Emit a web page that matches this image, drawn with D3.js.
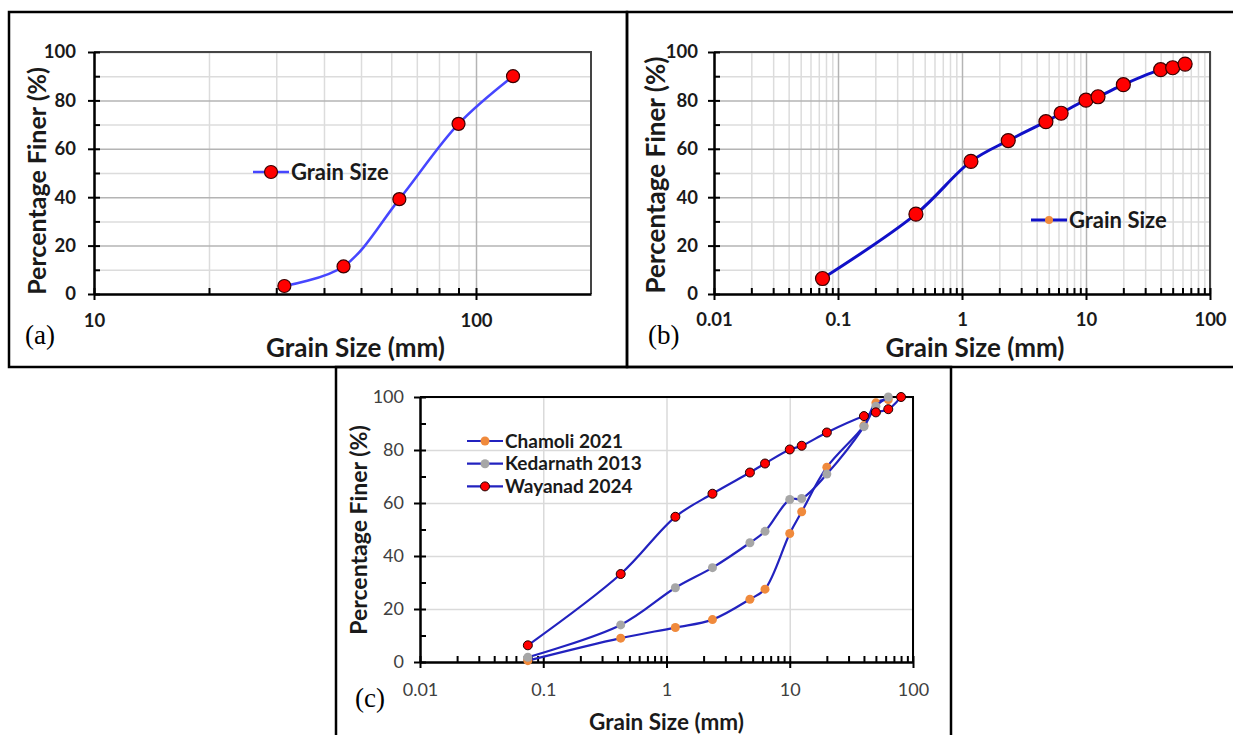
<!DOCTYPE html>
<html>
<head>
<meta charset="utf-8">
<script src="https://cdn.jsdelivr.net/npm/d3@7"></script>
<style>
  body { margin: 0; background: #fff; }
  svg { display: block; font-family: Lato, "Open Sans", sans-serif; }
</style>
</head>
<body>
<div id="chart"></div>
<script>
// panel (a)
const sizesA = [31.5, 45, 63, 90, 125];
const finerA = [3.3, 11.4, 39.2, 70.3, 90];

// panel (b)
const sizesB = [0.075, 0.425, 1.18, 2.36, 4.75, 6.3, 10, 12.5, 20, 40, 50, 63];
const finerB = [6.4, 33, 54.8, 63.4, 71.2, 74.7, 80.1, 81.5, 86.5, 92.7, 93.5, 95];

// panel (c)
const sizesC = [0.075, 0.425, 1.18, 2.36, 4.75, 6.3, 10, 12.5, 20, 40, 50, 63, 80];
const chamoli = [0.5, 9, 13, 16, 23.7, 27.5, 48.5, 56.7, 73.5, 89.2, 97.8, 99];
const kedarnath = [1.8, 14, 28, 35.6, 45, 49.3, 61.3, 61.7, 70.9, 88.8, 96.5, 100];
const wayanad = [6.3, 33.2, 54.8, 63.5, 71.5, 74.9, 80.2, 81.6, 86.6, 92.8, 94.2, 95.4, 100];
const seriesNames = ["Chamoli 2021", "Kedarnath 2013", "Wayanad 2024"];

const yTicks = [0, 20, 40, 60, 80, 100];
const yMinor = [10, 30, 50, 70, 90];
const xTicksA = [10, 100];
const xTicksBC = [0.01, 0.1, 1, 10, 100];

const W = 1233, H = 735;
const svg = d3.select("#chart").append("svg")
  .attr("width", W).attr("height", H);

// minor log positions 2..9 within each decade
function minorLog(lo, hi) {
  const out = [];
  for (let d = lo; d < hi; d *= 10)
    for (let k = 2; k <= 9; k++) out.push(d * k);
  return out;
}

function panel(cfg) {
  const g = svg.append("g");
  const x = d3.scaleLog().domain(cfg.xDomain).range([cfg.left, cfg.right]);
  const y = d3.scaleLinear().domain([0, 100]).range([cfg.bottom, cfg.top]);
  const pw = cfg.right - cfg.left, ph = cfg.bottom - cfg.top;
  const minors = minorLog(cfg.xDomain[0], cfg.xDomain[1]).filter(v => v < cfg.xDomain[1]);

  // grid
  if (cfg.minorGrid) {
    g.append("g").attr("transform", `translate(0,${cfg.bottom})`)
      .call(d3.axisBottom(x).tickValues(minors).tickSize(-ph).tickFormat(""))
      .call(s => s.select(".domain").remove())
      .selectAll("line").attr("stroke", "#dcdcdc").attr("stroke-width", 1.5);
    g.append("g").attr("transform", `translate(${cfg.left},0)`)
      .call(d3.axisLeft(y).tickValues(yMinor).tickSize(-pw).tickFormat(""))
      .call(s => s.select(".domain").remove())
      .selectAll("line").attr("stroke", "#dcdcdc").attr("stroke-width", 1.5);
  }
  g.append("g").attr("transform", `translate(0,${cfg.bottom})`)
    .call(d3.axisBottom(x).tickValues(cfg.xTicks).tickSize(-ph).tickFormat(""))
    .call(s => s.select(".domain").remove())
    .selectAll("line").attr("stroke", cfg.gridMajor).attr("stroke-width", 1.5);
  g.append("g").attr("transform", `translate(${cfg.left},0)`)
    .call(d3.axisLeft(y).tickValues(yTicks).tickSize(-pw).tickFormat(""))
    .call(s => s.select(".domain").remove())
    .selectAll("line").attr("stroke", cfg.gridMajor).attr("stroke-width", 1.5);

  // plot border top/right
  g.append("path")
    .attr("d", `M${cfg.left},${cfg.top}H${cfg.right}V${cfg.bottom}`)
    .attr("fill", "none").attr("stroke", cfg.borderColor).attr("stroke-width", 2);

  // inner minor ticks
  g.append("g").attr("transform", `translate(0,${cfg.bottom})`)
    .call(d3.axisBottom(x).tickValues(minors).tickSize(-6).tickFormat(""))
    .call(s => s.select(".domain").remove())
    .selectAll("line").attr("stroke", "#000").attr("stroke-width", 2);
  g.append("g").attr("transform", `translate(${cfg.left},0)`)
    .call(d3.axisLeft(y).tickValues(yMinor).tickSize(-6).tickFormat(""))
    .call(s => s.select(".domain").remove())
    .selectAll("line").attr("stroke", "#000").attr("stroke-width", 2);
  g.append("g").attr("transform", `translate(0,${cfg.bottom})`)
    .call(d3.axisBottom(x).tickValues(cfg.xTicks).tickSize(-6).tickFormat(""))
    .call(s => s.select(".domain").remove())
    .selectAll("line").attr("stroke", "#000").attr("stroke-width", 2);
  g.append("g").attr("transform", `translate(${cfg.left},0)`)
    .call(d3.axisLeft(y).tickValues(yTicks).tickSize(-6).tickFormat(""))
    .call(s => s.select(".domain").remove())
    .selectAll("line").attr("stroke", "#000").attr("stroke-width", 2);

  // main axes
  const xa = g.append("g").attr("transform", `translate(0,${cfg.bottom})`)
    .call(d3.axisBottom(x).tickValues(cfg.xTicks).tickSize(6).tickSizeOuter(0)
      .tickPadding(cfg.xPad).tickFormat(d => String(d)));
  const ya = g.append("g").attr("transform", `translate(${cfg.left},0)`)
    .call(d3.axisLeft(y).tickValues(yTicks).tickSize(6).tickSizeOuter(0)
      .tickPadding(cfg.yPad));
  [xa, ya].forEach(a => {
    a.select(".domain").attr("stroke", "#000").attr("stroke-width", 2.5);
    a.selectAll("line").attr("stroke", "#000").attr("stroke-width", 2);
    a.selectAll("text")
      .style("font-family", "Lato, sans-serif")
      .style("font-size", cfg.tickSize + "px")
      .style("font-weight", cfg.tickWeight)
      .attr("fill", cfg.tickColor);
  });

  // titles
  g.append("text")
    .attr("x", (cfg.left + cfg.right) / 2 + cfg.xTitleDx).attr("y", cfg.xTitleY)
    .attr("text-anchor", "middle")
    .style("font-size", cfg.titleSize + "px").style("font-weight", 700)
    .attr("fill", "#1a1a1a").text("Grain Size (mm)");
  g.append("text")
    .attr("transform", `translate(${cfg.yTitleX},${cfg.yTitleY}) rotate(-90)`)
    .attr("text-anchor", "middle")
    .style("font-size", cfg.yTitleSize + "px").style("font-weight", 700)
    .attr("fill", "#1a1a1a").text("Percentage Finer (%)");

  // panel letter
  g.append("text")
    .attr("x", cfg.letterX).attr("y", cfg.letterY)
    .style("font-family", "'Liberation Serif', 'DejaVu Serif', serif")
    .style("font-size", "27px").attr("fill", "#000").text(cfg.letter);

  // frame
  g.append("rect")
    .attr("x", cfg.frame[0]).attr("y", cfg.frame[1])
    .attr("width", cfg.frame[2] - cfg.frame[0]).attr("height", cfg.frame[3] - cfg.frame[1])
    .attr("fill", "none").attr("stroke", "#000").attr("stroke-width", 2.5);

  return {g, x, y};
}

function drawSeries(p, xs, ys, st) {
  const pts = ys.map((v, i) => [xs[i], v]);
  const line = d3.line()
    .x(d => p.x(d[0])).y(d => p.y(d[1]))
    .curve(d3.curveCatmullRom.alpha(0.5));
  p.g.append("path").datum(pts)
    .attr("d", line).attr("fill", "none")
    .attr("stroke", st.line).attr("stroke-width", st.lineWidth);
  p.g.append("g").selectAll("circle").data(pts).join("circle")
    .attr("cx", d => p.x(d[0])).attr("cy", d => p.y(d[1]))
    .attr("r", st.r).attr("fill", st.fill)
    .attr("stroke", st.stroke).attr("stroke-width", st.strokeWidth);
}

function legendItem(p, lx, ly, label, st, fontSize, weight) {
  p.g.append("line")
    .attr("x1", lx).attr("x2", lx + 36).attr("y1", ly).attr("y2", ly)
    .attr("stroke", st.line).attr("stroke-width", st.lineWidth);
  p.g.append("circle")
    .attr("cx", lx + 18).attr("cy", ly).attr("r", st.lr || st.r)
    .attr("fill", st.fill).attr("stroke", st.stroke).attr("stroke-width", st.strokeWidth);
  p.g.append("text")
    .attr("x", lx + 38).attr("y", ly).attr("dy", "0.35em")
    .style("font-size", fontSize + "px").style("font-weight", weight)
    .attr("fill", "#1a1a1a").text(label);
}

// ---- (a)
const pA = panel({
  frame: [9, 12, 627, 367], left: 94, right: 591, top: 52, bottom: 294,
  xDomain: [10, 200], xTicks: xTicksA, minorGrid: true,
  gridMajor: "#b4b4b4", borderColor: "#444",
  xPad: 14, yPad: 12, tickSize: 18.5, tickWeight: 700, tickColor: "#1a1a1a",
  titleSize: 26, xTitleDx: 13, xTitleY: 357, yTitleSize: 25, yTitleX: 46, yTitleY: 181,
  letter: "(a)", letterX: 25, letterY: 344
});
const stA = {line: "#4646ff", lineWidth: 2.5, r: 6.5, fill: "#ff0000", stroke: "#3a0000", strokeWidth: 1.2};
drawSeries(pA, sizesA, finerA, stA);
legendItem(pA, 253, 172, "Grain Size", stA, 22, 700);

// ---- (b)
const pB = panel({
  frame: [627, 12, 1245, 367], left: 714, right: 1210, top: 52, bottom: 294,
  xDomain: [0.01, 100], xTicks: xTicksBC, minorGrid: true,
  gridMajor: "#b4b4b4", borderColor: "#444",
  xPad: 13, yPad: 10, tickSize: 18.5, tickWeight: 700, tickColor: "#1a1a1a",
  titleSize: 26, xTitleDx: 13, xTitleY: 357, yTitleSize: 26, yTitleX: 665, yTitleY: 175,
  letter: "(b)", letterX: 648, letterY: 344
});
const stB = {line: "#1010c8", lineWidth: 3, r: 7, fill: "#ff0000", stroke: "#3a0000", strokeWidth: 1.2};
drawSeries(pB, sizesB, finerB, stB);
legendItem(pB, 1031, 220,"Grain Size",
  {line: "#1010c8", lineWidth: 3, r: 4, fill: "#f08a3c", stroke: "none", strokeWidth: 0}, 22, 700);

// ---- (c)
const pC = panel({
  frame: [336, 367, 951, 745], left: 420, right: 913, top: 397, bottom: 662,
  xDomain: [0.01, 100], xTicks: xTicksBC, minorGrid: false,
  gridMajor: "#dadada", borderColor: "#000",
  xPad: 15, yPad: 10, tickSize: 18, tickWeight: 400, tickColor: "#404040",
  titleSize: 22.5, xTitleDx: 0, xTitleY: 730, yTitleSize: 23, yTitleX: 367, yTitleY: 530,
  letter: "(c)", letterX: 355, letterY: 707
});
const stC = [
  {line: "#2222bf", lineWidth: 2.2, r: 4.5, fill: "#f08a3c", stroke: "none", strokeWidth: 0},
  {line: "#2222bf", lineWidth: 2.2, r: 4.5, fill: "#a6a6a6", stroke: "none", strokeWidth: 0},
  {line: "#2222bf", lineWidth: 2.2, r: 4.5, fill: "#ff0000", stroke: "#200000", strokeWidth: 1}
];
[chamoli, kedarnath, wayanad].forEach((vals, i) => drawSeries(pC, sizesC, vals, stC[i]));
seriesNames.forEach((name, i) => legendItem(pC, 467, 441 + i * 22.7, name, stC[i], 19, 700));
</script>
</body>
</html>
